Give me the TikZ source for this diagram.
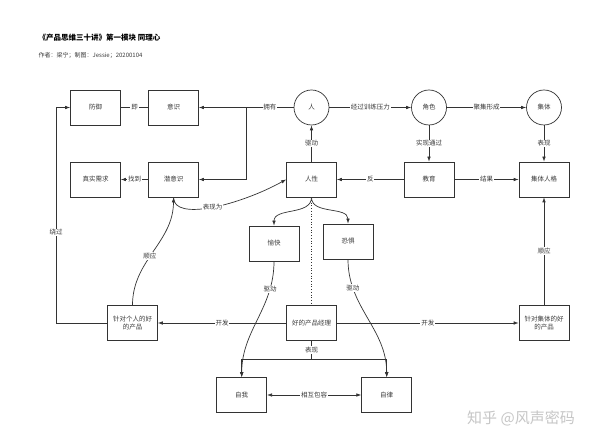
\documentclass[tikz,border=0pt]{standalone}
\usepackage{fontspec}
\setmainfont{Noto Sans CJK SC}
\usetikzlibrary{positioning,arrows.meta}
\definecolor{linegray}{HTML}{333333}
\definecolor{textgray}{HTML}{3A3A3A}
\tikzset{
  box/.style={draw=linegray,line width=0.7pt,minimum width=50pt,minimum height=35pt,inner sep=1pt,align=center},
  circ/.style={draw=linegray,line width=0.7pt,circle,minimum size=35pt,inner sep=0pt},
  arr/.style={-{Latex[length=5pt,width=3.6pt]}},
  lbl/.style={fill=white,inner sep=0.8pt,text=textgray,font=\fontsize{6.5}{7}\selectfont},
}

\begin{document}
\begin{tikzpicture}[x=1pt,y=-1pt,line width=0.7pt,draw=linegray,text=textgray,font=\fontsize{6.5}{8}\selectfont]
  \fill[white] (0,0) rectangle (600,443);
  \useasboundingbox (0,0) rectangle (600,443);

  % heading
  \node[anchor=west,text=black,font=\bfseries\fontsize{7.5}{9}\selectfont] (title) at (35,38) {《产品思维三十讲》第一模块 同理心};
  \node[anchor=west,font=\fontsize{6}{7}\selectfont] (author) at (35,55) {作者：梁宁；制图：Jessie；20200104};

\begin{scope}[every node/.style={box}]
  \node (fangyu) at (95.5,107.5) {防御};
  \node (yishi) at (173.5,107.5) {意识};
  \node (zhenshi) at (95.5,179.5) {真实需求};
  \node (qianyishi) at (173.5,179.5) {潜意识};
  \node (renxing) at (311.5,179.5) {人性};
  \node (jiaoyu) at (429,179.5) {教育};
  \node (renge) at (544,179.5) {集体人格};
  \node (yukuai) at (274,243.5) {愉快};
  \node (kongju) at (348,241.5) {恐惧};
  \node (geren) at (132.5,323) {针对个人的好\\的产品};
  \node (pm) at (311.5,323) {好的产品经理};
  \node (jtcp) at (544,323) {针对集体的好\\的产品};
  \node (ziwo) at (241.7,395) {自我};
  \node (zilv) at (386.7,395) {自律};
\end{scope}
\begin{scope}[every node/.style={circ}]
  \node (ren) at (311.5,107.5) {人};
  \node (juese) at (429,107.5) {角色};
  \node (jiti) at (544,107.5) {集体};
\end{scope}

  \coordinate (fork) at (246.7,107.5);
  \coordinate (rao) at (56,323);
  \coordinate (biao) at (311.5,359);

  \draw (yishi) -- node[lbl] {即} (fangyu);
  \draw[arr] (ren) -- node[lbl,pos=0.25] {拥有} (yishi);
  \draw[arr] (fork) |- (qianyishi);
  \foreach \a/\b/\t in {ren/juese/经过训练压力,juese/jiti/聚集形成,juese/jiaoyu/实现通过,
      jiti/renge/表现,renxing/ren/驱动,jiaoyu/renxing/反,jiaoyu/renge/结果,
      qianyishi/zhenshi/找到,pm/geren/开发,pm/jtcp/开发,jtcp/renge/顺应} {
    \draw[arr] (\a) -- node[lbl] {\t} (\b);
  }
  \draw[arr] (geren.west) -- (rao) |- node[lbl,pos=0.21] {绕过} (fangyu.west);
  \draw[arr] (qianyishi.south) .. controls (173.5,222) and (240,205) .. node[lbl,pos=0.5] {表现为} (renxing.west);
  \draw[arr] (geren.north) to[out=90,in=-90] node[lbl,pos=0.45] {顺应} (qianyishi.south);
  \draw[arr] (renxing.south) to[out=-90,in=90] (yukuai.north);
  \draw[arr] (renxing.south) to[out=-90,in=90] (kongju.north);
  \draw[dotted] (renxing.south) -- (pm.north);
  \draw[arr] (yukuai.south) to[out=-90,in=90] node[lbl,pos=0.22] {驱动} (ziwo.north);
  \draw[arr] (kongju.south) to[out=-90,in=90] node[lbl,pos=0.22] {驱动} (zilv.north);
  \draw (pm.south) -- node[lbl] {表现} (biao);
  \draw[arr] (biao) -| (ziwo.north);
  \draw[arr] (biao) -| (zilv.north);
  \draw[{Latex[length=5pt,width=3.6pt]}-{Latex[length=5pt,width=3.6pt]}] (ziwo) -- node[lbl] {相互包容} (zilv);

  \node[text=gray!45,font=\fontsize{15}{16}\selectfont] (mark) at (521,418) {知乎 @风声密码};
\end{tikzpicture}
\end{document}
